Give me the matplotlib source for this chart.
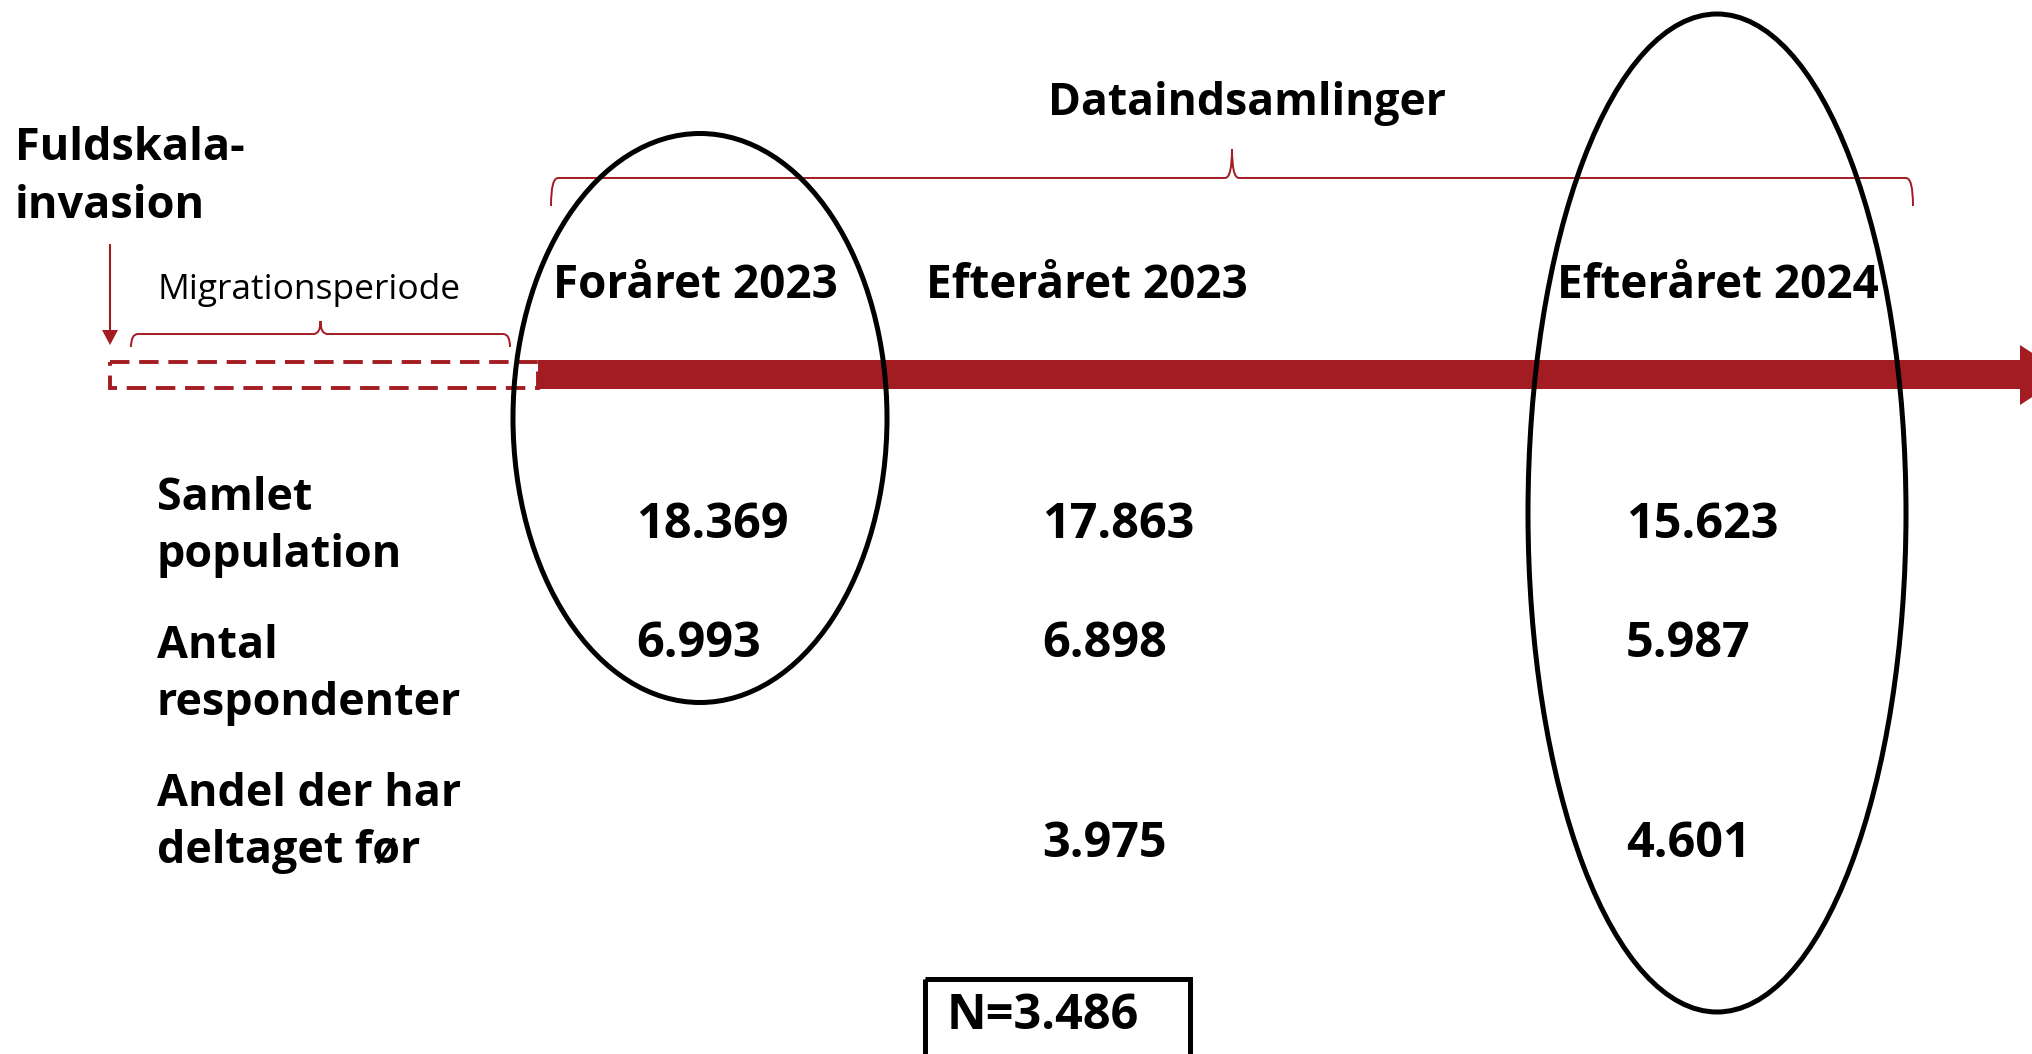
import matplotlib
matplotlib.use("Agg")
import matplotlib.pyplot as plt
from matplotlib.patches import Rectangle, Ellipse, Polygon, PathPatch
from matplotlib.path import Path

plt.rcParams['font.family'] = ['Open Sans', 'DejaVu Sans']

# data
periods = ['Foråret 2023', 'Efteråret 2023', 'Efteråret 2024']
row_labels = ['Samlet\npopulation', 'Antal\nrespondenter', 'Andel der har\ndeltaget før']
samlet_population = [18369, 17863, 15623]
antal_respondenter = [6993, 6898, 5987]
deltaget_foer = [None, 3975, 4601]
n_panel = 3486

RED = '#A31C22'


def dk(n):
    return f"{n:,}".replace(",", ".")


def brace(ax, x0, x1, y, tip, drop, lw):
    # curly brace: ends drop down, tip points up in the middle
    xm = (x0 + x1) / 2
    r = 7
    verts = [(x0, y + drop), (x0, y), (x0 + r, y),
             (xm - r, y), (xm, y), (xm, y - tip),
             (xm, y), (xm + r, y),
             (x1 - r, y), (x1, y), (x1, y + drop)]
    codes = [Path.MOVETO, Path.CURVE3, Path.CURVE3,
             Path.LINETO, Path.CURVE3, Path.CURVE3,
             Path.CURVE3, Path.CURVE3,
             Path.LINETO, Path.CURVE3, Path.CURVE3]
    ax.add_patch(PathPatch(Path(verts, codes), fill=False, edgecolor=RED, lw=lw))


fig = plt.figure(figsize=(20.33, 10.54), dpi=100)
ax = fig.add_axes([0, 0, 1, 1])
ax.set_xlim(0, 2033)
ax.set_ylim(1054, 0)
ax.axis('off')

# timeline
ax.add_patch(Rectangle((538, 360), 1482, 29, facecolor=RED, edgecolor='none', zorder=2))
ax.add_patch(Polygon([(2020, 345), (2066, 375), (2020, 405)], facecolor=RED, edgecolor='none', zorder=2))
ax.add_patch(Rectangle((110, 362), 428, 26, fill=False, edgecolor=RED, lw=2.8,
                       linestyle=(0, (5, 2.5)), zorder=2))

# invasion marker
ax.plot([110, 110], [245, 332], color=RED, lw=1.5)
ax.add_patch(Polygon([(102, 330), (118, 330), (110, 345)], facecolor=RED, edgecolor='none'))
ax.text(15, 160, 'Fuldskala-', fontsize=32.5, fontweight='bold', va='baseline')
ax.text(15, 218, 'invasion', fontsize=32.5, fontweight='bold', va='baseline')

# migration period
brace(ax, 131, 510, 334, 13, 13, 1.4)
ax.text(158, 299, 'Migrationsperiode', fontsize=25.5, va='baseline')

# data collections
brace(ax, 551, 1913, 178, 29, 28, 1.4)
ax.text(1247, 115, 'Dataindsamlinger', fontsize=32, fontweight='bold', va='baseline', ha='center')

head_x = [553, 926, 1557]
for x, p in zip(head_x, periods):
    ax.text(x, 298, p, fontsize=33, fontweight='bold', va='baseline')

row_y = [510, 658, 806]
for y, lab in zip(row_y, row_labels):
    for i, line in enumerate(lab.split('\n')):
        ax.text(157, y + 57 * i, line, fontsize=32.3, fontweight='bold', va='baseline')

value_x = [636, 1042, 1626]
value_y = [538, 657, 857]
for y, series in zip(value_y, [samlet_population, antal_respondenter, deltaget_foer]):
    for x, v in zip(value_x, series):
        if v is not None:
            ax.text(x, y, dk(v), fontsize=35, fontweight='bold', va='baseline')

# highlight ellipses
ax.add_patch(Ellipse((700, 418), 374, 569, fill=False, edgecolor='black', lw=3.6, zorder=5))
ax.add_patch(Ellipse((1717, 513), 378, 998, fill=False, edgecolor='black', lw=3.6, zorder=5))

# panel box
ax.add_patch(Rectangle((925, 979), 265, 120, fill=False, edgecolor='black', lw=3.6, zorder=5))
ax.text(947, 1029, 'N=' + dk(n_panel), fontsize=35, fontweight='bold', va='baseline')

fig.savefig('out.png', dpi=100)
